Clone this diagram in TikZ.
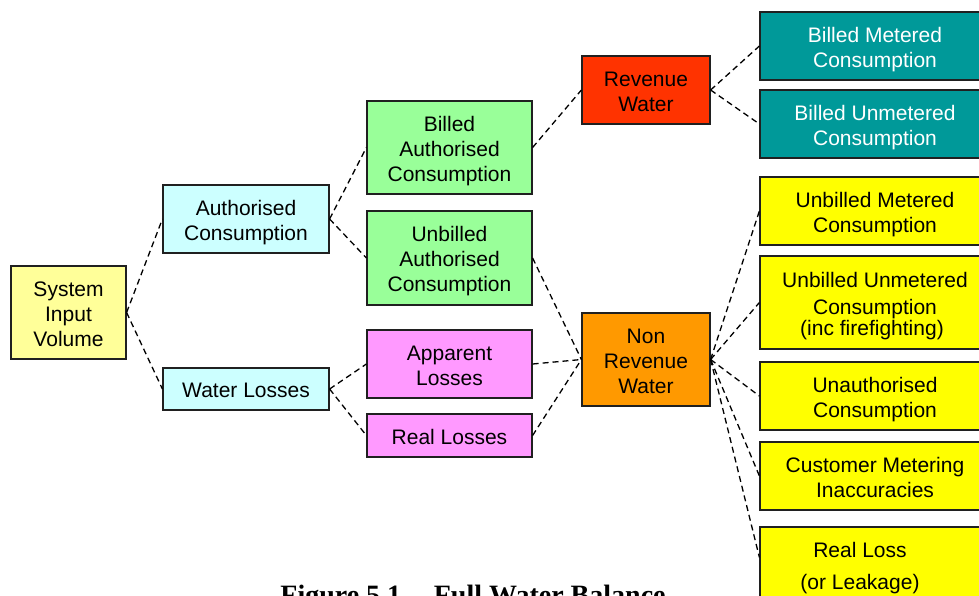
\documentclass[tikz,border=0pt]{standalone}
\usepackage{fontspec}
\setmainfont{Liberation Sans}
\newfontfamily\capfont{Liberation Serif}
\usetikzlibrary{calc}
\definecolor{cSIV}{HTML}{FFFF99}
\definecolor{cCyan}{HTML}{CCFFFF}
\definecolor{cGreen}{HTML}{99FF99}
\definecolor{cPink}{HTML}{FF99FF}
\definecolor{cRed}{HTML}{FF3300}
\definecolor{cOrange}{HTML}{FF9900}
\definecolor{cTeal}{HTML}{009999}
\definecolor{cYellow}{HTML}{FFFF00}
\definecolor{cBorder}{HTML}{202020}
\newcommand\topstr{\rule{0pt}{21.5pt}}
\newcommand\botstr{\rule[-4.5pt]{0pt}{0pt}}
\tikzset{
  box/.style={draw=cBorder, line width=1.2pt, inner sep=0pt, align=center,
    font=\fontsize{21}{25}\selectfont},
  conn/.style={draw=black, line width=1.3pt, dash pattern=on 6pt off 4pt},
}
\begin{document}
\begin{tikzpicture}[x=1pt,y=-1pt]
\useasboundingbox (0,0) rectangle (979,595);
\begin{scope}
\clip (0,0) rectangle (979,595);
% column 1
\node[box, fill=cSIV, minimum width=115pt, minimum height=93pt] (siv) at (68.5,312.5) {\topstr System\\Input\\Volume\botstr};
% column 2
\node[box, fill=cCyan, minimum width=166pt, minimum height=68pt] (ac) at (246,219) {\topstr Authorised\\Consumption\botstr};
\node[box, fill=cCyan, minimum width=166pt, minimum height=42pt] (wl) at (246,389) {\topstr Water Losses\botstr};
% column 3
\node[box, fill=cGreen, minimum width=165pt, minimum height=93pt] (bac) at (449.5,147.5) {\topstr Billed\\Authorised\\Consumption\botstr};
\node[box, fill=cGreen, minimum width=165pt, minimum height=94pt] (uac) at (449.5,258) {\topstr Unbilled\\Authorised\\Consumption\botstr};
\node[box, fill=cPink, minimum width=165pt, minimum height=68pt] (al) at (449.5,364) {\topstr Apparent\\Losses\botstr};
\node[box, fill=cPink, minimum width=165pt, minimum height=43pt] (rls) at (449.5,435.5) {\topstr Real Losses\botstr};
% column 4
\node[box, fill=cRed, minimum width=128pt, minimum height=68pt] (rw) at (646,90) {\topstr Revenue\\Water\botstr};
\node[box, fill=cOrange, minimum width=128pt, minimum height=93pt] (nrw) at (646,359.5) {\topstr Non\\Revenue\\Water\botstr};
% column 5
\node[box, fill=cTeal, text=white, minimum width=230pt, minimum height=68pt] (bmc) at (875,46) {\topstr Billed Metered\\Consumption\botstr};
\node[box, fill=cTeal, text=white, minimum width=230pt, minimum height=68pt] (buc) at (875,124) {\topstr Billed Unmetered\\Consumption\botstr};
\node[box, fill=cYellow, minimum width=230pt, minimum height=68pt] (umc) at (875,211) {\topstr Unbilled Metered\\Consumption\botstr};
\node[box, fill=cYellow, minimum width=230pt, minimum height=93pt] (uuc) at (875,302.5) {\topstr Unbilled Unmetered\\[2pt]Consumption\hspace*{26pt}\\[-4pt](inc firefighting)\hspace*{6pt}\botstr};
\node[box, fill=cYellow, minimum width=230pt, minimum height=68pt] (uc) at (875,396) {\topstr Unauthorised\\Consumption\botstr};
\node[box, fill=cYellow, minimum width=230pt, minimum height=68pt] (cmi) at (875,476) {\topstr Customer Metering\\Inaccuracies\botstr};
\node[box, fill=cYellow, minimum width=230pt, minimum height=76pt] (rl) at (875,565) {\topstr Real Loss\hspace*{30pt}\\[7pt](or Leakage)\hspace*{30pt}\botstr};
\coordinate (rlin) at ($(rl.north west)+(0,31)$);
% caption
\node[font=\capfont\bfseries\fontsize{28}{32}\selectfont, anchor=base, inner sep=0pt] (cap) at (473,604) {Figure 5.1 -- Full Water Balance};
% connectors
\draw[conn] (siv.east) -- (ac.west);
\draw[conn] (siv.east) -- (wl.west);
\draw[conn] (ac.east) -- (bac.west);
\draw[conn] (ac.east) -- (uac.west);
\draw[conn] (wl.east) -- (al.west);
\draw[conn] (wl.east) -- (rls.west);
\draw[conn] (bac.east) -- (rw.west);
\draw[conn] (uac.east) -- (nrw.west);
\draw[conn] (al.east) -- (nrw.west);
\draw[conn] (rls.east) -- (nrw.west);
\draw[conn] (rw.east) -- (bmc.west);
\draw[conn] (rw.east) -- (buc.west);
\draw[conn] (nrw.east) -- (umc.west);
\draw[conn] (nrw.east) -- (uuc.west);
\draw[conn] (nrw.east) -- (uc.west);
\draw[conn] (nrw.east) -- (cmi.west);
\draw[conn] (nrw.east) -- (rlin);
\end{scope}
\end{tikzpicture}
\end{document}
